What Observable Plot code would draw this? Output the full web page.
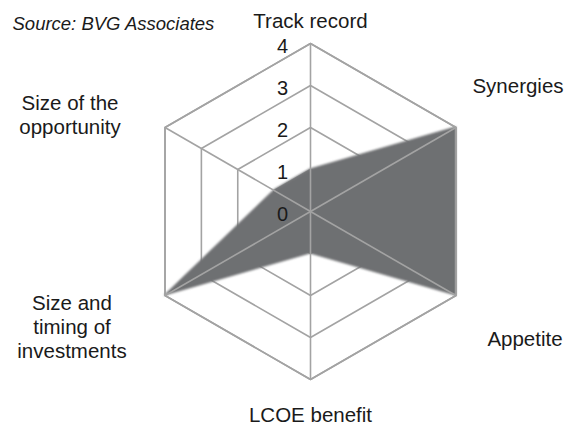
<!DOCTYPE html>
<html>
<head>
<meta charset="utf-8">
<script src="https://cdn.jsdelivr.net/npm/d3@7"></script>
<script src="https://cdn.jsdelivr.net/npm/@observablehq/plot@0.6"></script>
<style>
  html, body { margin: 0; padding: 0; background: #fff; }
  #chart svg { display: block; }
</style>
</head>
<body>
<div id="chart"></div>
<script>
// ---- data ----
const categories = ["Track record", "Synergies", "Appetite", "LCOE benefit", "Size and\ntiming of\ninvestments", "Size of the\nopportunity"];
const values = [1, 4, 4, 1, 4, 1];
const tickValues = [0, 1, 2, 3, 4];
const source = "Source: BVG Associates";

// ---- layout ----
const W = 576, H = 426;
const K = 42;             // pixels per unit
const CX = 310, CY = 211; // centre in pixels
const maxV = 4;
const n = categories.length;
const ang = i => (i * 2 * Math.PI) / n;
const px = (i, r) => r * Math.sin(ang(i));
const py = (i, r) => r * Math.cos(ang(i));

// pixel offsets of the category labels from the outer vertices
const labelOffsets = [[0, -23], [62, -42], [69, 43], [0, 35], [-93, 31], [-95, -13]];

const grid = [];
for (const lv of tickValues.filter(t => t > 0)) {
  categories.forEach((c, i) => grid.push({level: lv, x: px(i, lv), y: py(i, lv)}));
}
const shape = categories.map((c, i) => ({x: px(i, values[i]), y: py(i, values[i])}));
const spokes = categories.map((c, i) => ({x: px(i, maxV), y: py(i, maxV)}));
const labels = categories.map((c, i) => ({
  text: c,
  x: px(i, maxV) + labelOffsets[i][0] / K,
  y: py(i, maxV) - labelOffsets[i][1] / K
}));
const ticks = tickValues.map(t => ({t, x: 0, y: t}));

const gridColor = "#a3a3a3";

const chart = Plot.plot({
  width: W,
  height: H,
  margin: 0,
  style: {fontFamily: "'Liberation Sans', Arial, sans-serif", background: "#fff", color: "#1a1a1a"},
  x: {domain: [-CX / K, (W - CX) / K], range: [0, W], axis: null},
  y: {domain: [-(H - CY) / K, CY / K], range: [H, 0], axis: null},
  marks: [
    Plot.line(grid, {x: "x", y: "y", z: "level", curve: "linear-closed", stroke: gridColor, strokeWidth: 1.6}),
    Plot.area(shape, {x1: "x", y1: "y", x2: 0, y2: 0, curve: "linear-closed", fill: "#6e7072", stroke: "#6a6c6e", strokeWidth: 1}),
    Plot.link(spokes, {x1: 0, y1: 0, x2: "x", y2: "y", stroke: gridColor, strokeWidth: 1.6}),
    Plot.line(grid.filter(d => d.level === maxV), {x: "x", y: "y", curve: "linear-closed", stroke: gridColor, strokeWidth: 1.6}),
    Plot.text(ticks, {x: "x", y: "y", text: d => String(d.t), dx: -28, dy: 3.5, fontSize: 20, textAnchor: "middle", fill: "#1a1a1a"}),
    Plot.text(labels, {x: "x", y: "y", text: "text", fontSize: 20.5, lineHeight: 1.17, textAnchor: "middle", fill: "#1a1a1a"}),
    Plot.text([source], {frameAnchor: "top-left", dx: 12, dy: 16, fontSize: 18.5, fontStyle: "italic", textAnchor: "start", fill: "#1a1a1a"})
  ]
});

// soft edge on the filled area
const svg = chart;
const defs = document.createElementNS("http://www.w3.org/2000/svg", "defs");
defs.innerHTML = '<filter id="soft" x="-10%" y="-10%" width="120%" height="120%"><feGaussianBlur stdDeviation="1.3"/></filter>';
svg.insertBefore(defs, svg.firstChild);
const areaG = svg.querySelector('g[aria-label="area"]');
if (areaG) areaG.setAttribute("filter", "url(#soft)");

document.getElementById("chart").appendChild(chart);
</script>
</body>
</html>
